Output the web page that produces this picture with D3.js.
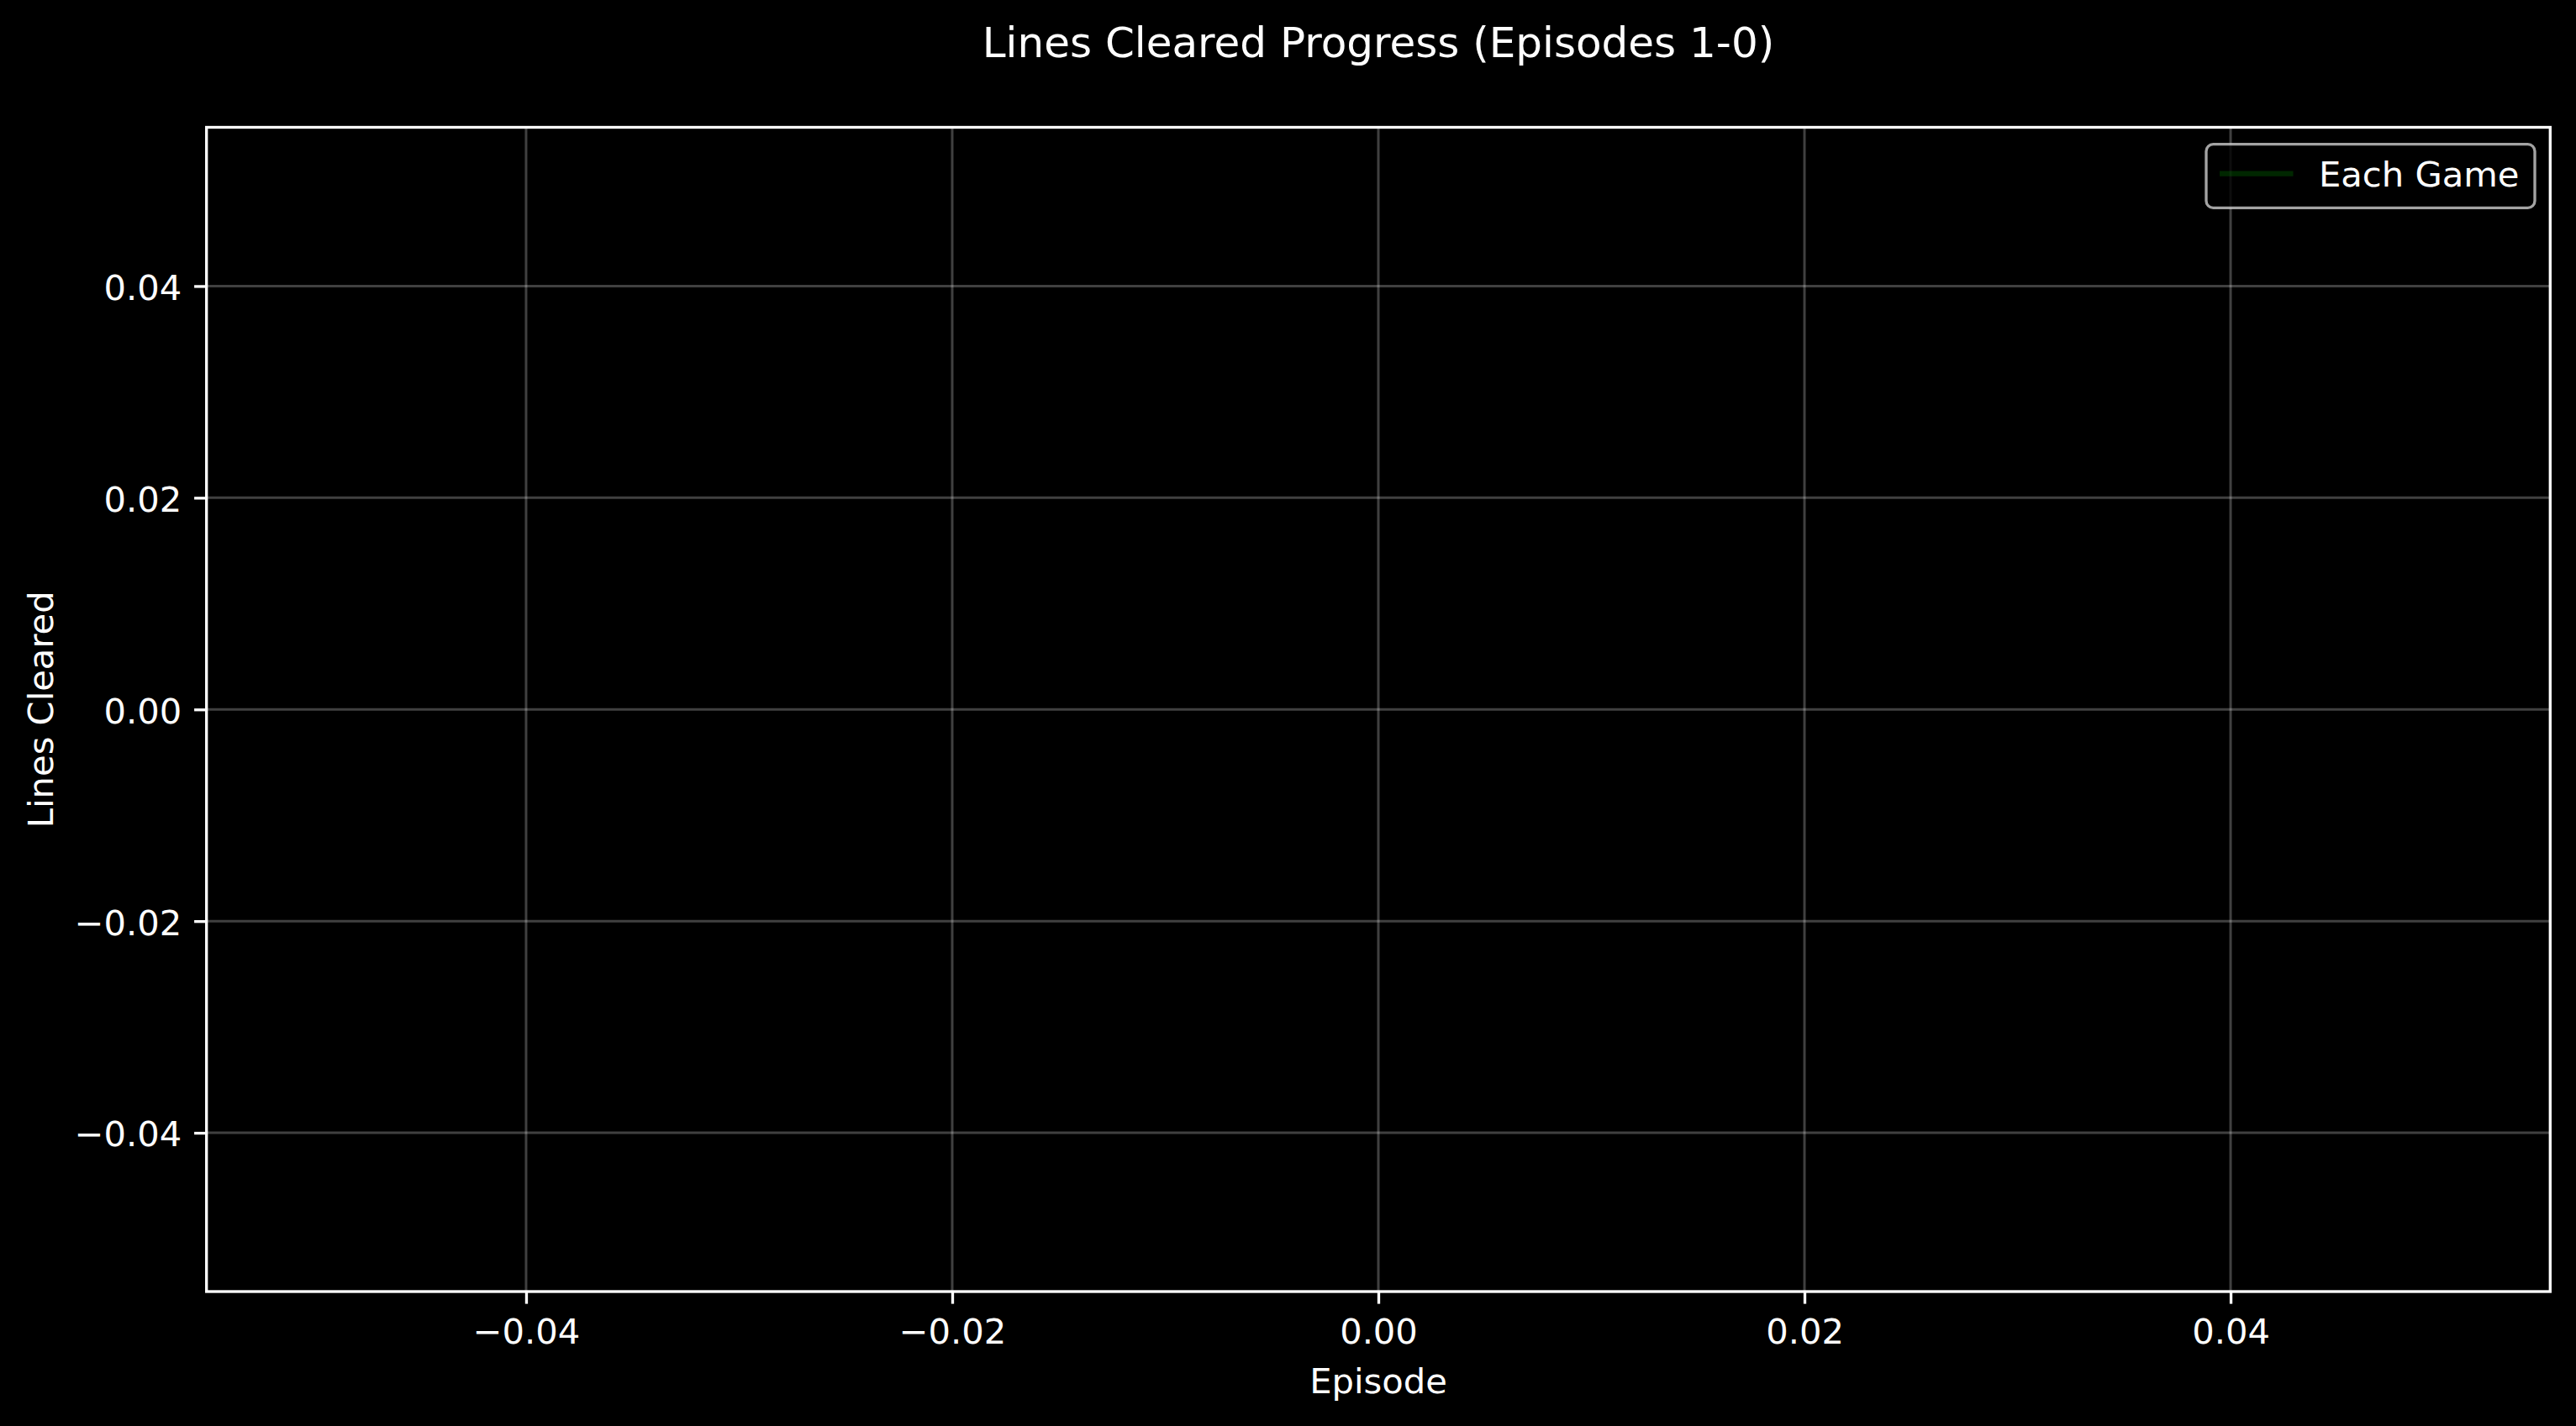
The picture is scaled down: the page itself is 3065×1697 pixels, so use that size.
<!DOCTYPE html>
<html>
<head>
<meta charset="utf-8">
<script src="https://cdn.jsdelivr.net/npm/d3@7"></script>
<style>
  html, body { margin: 0; padding: 0; background: #000; }
  text { font-family: "DejaVu Sans", sans-serif; fill: #fff; }
</style>
</head>
<body>
<svg id="chart" width="3065" height="1697"></svg>
<script>
// data: no games recorded yet, so the series is empty
const episodes = []
const linesCleared = []

const xDomain = [-0.055, 0.055]
const yDomain = [-0.055, 0.055]
const xTicks = [-0.04, -0.02, 0.00, 0.02, 0.04]
const yTicks = [-0.04, -0.02, 0.00, 0.02, 0.04]

const titleText = "Lines Cleared Progress (Episodes 1-0)"
const xLabel = "Episode"
const yLabel = "Lines Cleared"
const seriesName = "Each Game"

function drawChart() {
    const svg = d3.select("#chart")
    svg.append("rect").attr("width", 3065).attr("height", 1697).attr("fill", "#000")

    // plot area (matplotlib-ish, dpi 300)
    const left = 245.7, right = 3034.3, top = 151.5, bottom = 1537
    const lw = 3.33
    const fs = 41.67

    const x = d3.scaleLinear().domain(xDomain).range([left, right])
    const y = d3.scaleLinear().domain(yDomain).range([bottom, top])

    const fmt = v => d3.format(".2f")(v).replace("-", "\u2212")

    // grid
    const grid = svg.append("g")
    grid.selectAll(".vgrid")
        .data(xTicks)
        .join("line")
            .attr("x1", d => x(d)).attr("x2", d => x(d))
            .attr("y1", top).attr("y2", bottom)
            .attr("stroke", "#fff").attr("stroke-opacity", 0.25).attr("stroke-width", 3)
    grid.selectAll(".hgrid")
        .data(yTicks)
        .join("line")
            .attr("y1", d => y(d)).attr("y2", d => y(d))
            .attr("x1", left).attr("x2", right)
            .attr("stroke", "#fff").attr("stroke-opacity", 0.25).attr("stroke-width", 3)

    // the series (empty)
    const line = d3.line()
        .x((d, i) => x(episodes[i]))
        .y(d => y(d))
    svg.append("path")
        .datum(linesCleared)
        .attr("d", line(linesCleared) || "")
        .attr("fill", "none")
        .attr("stroke", "green")
        .attr("stroke-opacity", 0.3)
        .attr("stroke-width", 6.25)

    // axes
    const xAxis = svg.append("g")
        .attr("transform", `translate(0,${bottom})`)
        .call(d3.axisBottom(x).tickValues(xTicks).tickFormat(fmt).tickSize(14.6).tickSizeOuter(0))
    xAxis.select(".domain").remove()
    xAxis.selectAll(".tick line").attr("stroke", "#fff").attr("stroke-width", lw)
    xAxis.selectAll(".tick text")
        .attr("y", 62.3).attr("dy", null)
        .attr("font-size", fs)
        .style("font-family", "DejaVu Sans")
        .attr("fill", "#fff")

    const yAxis = svg.append("g")
        .attr("transform", `translate(${left},0)`)
        .call(d3.axisLeft(y).tickValues(yTicks).tickFormat(fmt).tickSize(14.6).tickSizeOuter(0))
    yAxis.select(".domain").remove()
    yAxis.selectAll(".tick line").attr("stroke", "#fff").attr("stroke-width", lw)
    yAxis.selectAll(".tick text")
        .attr("x", -29.4).attr("dy", "0.38em")
        .attr("font-size", fs)
        .style("font-family", "DejaVu Sans")
        .attr("fill", "#fff")

    // spines
    svg.append("rect")
        .attr("x", left).attr("y", top)
        .attr("width", right - left).attr("height", bottom - top)
        .attr("fill", "none").attr("stroke", "#fff").attr("stroke-width", lw)

    // labels
    svg.append("text")
        .attr("x", (left + right) / 2).attr("y", 68.3)
        .attr("text-anchor", "middle").attr("font-size", 50)
        .text(titleText)
    svg.append("text")
        .attr("x", (left + right) / 2).attr("y", 1658.3)
        .attr("text-anchor", "middle").attr("font-size", fs)
        .text(xLabel)
    svg.append("text")
        .attr("transform", `translate(63.3,${(top + bottom) / 2}) rotate(-90)`)
        .attr("text-anchor", "middle").attr("font-size", fs)
        .text(yLabel)

    // legend
    const legend = svg.append("g")
    legend.append("rect")
        .attr("x", 2625).attr("y", 171.7)
        .attr("width", 391).attr("height", 75.6)
        .attr("rx", 8.3).attr("ry", 8.3)
        .attr("fill", "#000").attr("fill-opacity", 0.8)
        .attr("stroke", "#ccc").attr("stroke-opacity", 0.8).attr("stroke-width", lw)
    legend.append("line")
        .attr("x1", 2641).attr("x2", 2728.5)
        .attr("y1", 206.7).attr("y2", 206.7)
        .attr("stroke", "green").attr("stroke-opacity", 0.3)
        .attr("stroke-width", 6.25)
    legend.append("text")
        .attr("x", 2759).attr("y", 221.7)
        .attr("font-size", fs)
        .text(seriesName)
}

drawChart()
</script>
</body>
</html>
